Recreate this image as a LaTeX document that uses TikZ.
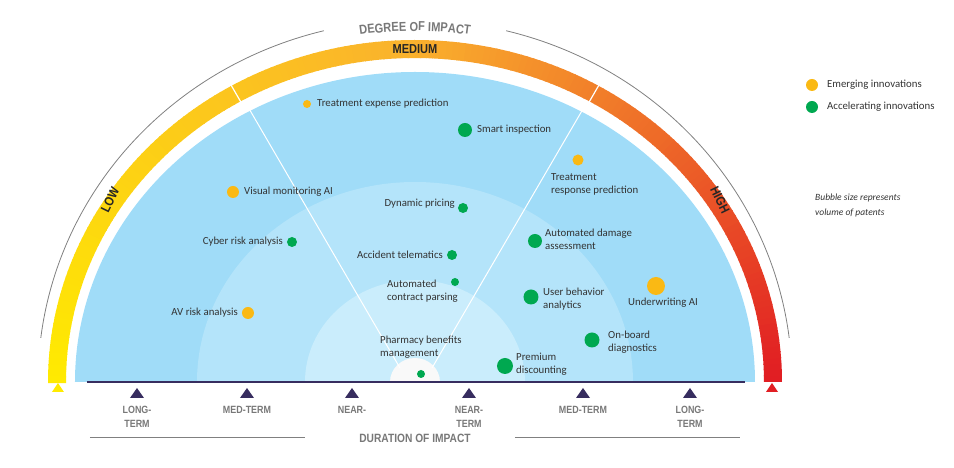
\documentclass[tikz,border=0pt]{standalone}
\usepackage{fontspec}
\setmainfont{Carlito}
\newfontfamily\hd[FakeStretch=0.85]{Liberation Sans}
\usetikzlibrary{decorations.text}
\definecolor{cY}{RGB}{255,235,0}
\definecolor{cO}{RGB}{250,178,45}
\definecolor{cR}{RGB}{225,30,35}
\definecolor{bA}{RGB}{160,220,248}
\definecolor{bB}{RGB}{180,228,250}
\definecolor{bC}{RGB}{202,237,252}
\definecolor{dotO}{RGB}{250,185,20}
\definecolor{dotG}{RGB}{0,168,80}
\definecolor{axis}{RGB}{55,45,95}
\definecolor{gt}{RGB}{120,120,120}
\begin{document}
\begin{tikzpicture}[x=1pt,y=1pt,
  lbl/.style={font=\fontsize{10.8}{13}\selectfont,text=black!80,inner sep=0pt,align=left},
  og/.style={fill=dotO},
  gr/.style={fill=dotG},
  tick/.style={fill=axis,draw=none},
  band/.style={font=\hd\bfseries\fontsize{13}{14}\selectfont,text=black!85,inner sep=0pt},
  tl/.style={font=\hd\bfseries\fontsize{10.5}{14}\selectfont,text=gt,align=center,inner sep=0pt}]
\useasboundingbox (-415,-86) rectangle (539,382);
% blue rings
\fill[bA] (-340,0) arc[start angle=180,end angle=0,x radius=340,y radius=310] -- cycle;
\fill[bB] (-218,0) arc[start angle=180,end angle=0,x radius=218,y radius=200] -- cycle;
\fill[bC] (-110,0) arc[start angle=180,end angle=0,x radius=110,y radius=102] -- cycle;
\fill[white!95!gray] (-25,0) arc[start angle=180,end angle=0,x radius=25,y radius=24] -- cycle;
\draw[white,line width=1pt] (-178,294) -- (-15,14);
\draw[white,line width=1pt] (182,297) -- (17,14);
% band
\foreach \a in {0,...,179}{
  \pgfmathtruncatemacro\p{\a>=90 ? (\a-90)/90*100 : \a/90*100}
  \ifnum\a<90 \colorlet{bc}{cO!\p!cR}\else\colorlet{bc}{cY!\p!cO}\fi
  \pgfmathsetmacro\b{\a+1.2}
  \fill[bc] (\a:349 and 324) arc[start angle=\a,end angle=\b,x radius=349,y radius=324]
    -- (\b:367 and 342) arc[start angle=\b,end angle=\a,x radius=367,y radius=342] -- cycle;
}
\draw[white,line width=1.2pt] (60:347 and 322) -- (60:369 and 344);
\draw[white,line width=1.2pt] (120:347 and 322) -- (120:369 and 344);
\node[band] (med) at (0,333) {MEDIUM};
\node[band,rotate=64] (low) at (-305,182) {LOW};
\node[band,rotate=-64] (high) at (305,182) {HIGH};
% gray arc
\draw[gray,line width=0.8pt] (7:377 and 362) arc[start angle=7,end angle=76,x radius=377,y radius=362];
\draw[gray,line width=0.8pt] (104:377 and 362) arc[start angle=104,end angle=173,x radius=377,y radius=362];
\path[decorate,decoration={text along path,text align=center,
  text={|\hd\bfseries\fontsize{13}{14}\selectfont\color{gt}|DEGREE OF IMPACT}}]
  (106:371 and 351) arc[start angle=106,end angle=74,x radius=371,y radius=351];
% base
\draw[axis,line width=2pt] (-328,0) -- (330,0);
\foreach \x/\n in {-278/t1,-168/t2,-63/t3,54/t4,168/t5,275/t6}
  \fill[tick] (\x-7,-16) -- (\x+7,-16) -- (\x,-6) -- cycle;
\fill[cY] (-363,-10) -- (-351,-10) -- (-357,-1) -- cycle;
\fill[cR] (351,-10) -- (363,-10) -- (357,-1) -- cycle;
\node[tl] (l1) at (-278,-35) {LONG-\\TERM};
\node[tl] (l2) at (-168,-28) {MED-TERM};
\node[tl] (l3) at (-63,-28) {NEAR-};
\node[tl] (l4) at (54,-35) {NEAR-\\TERM};
\node[tl] (l5) at (168,-28) {MED-TERM};
\node[tl] (l6) at (275,-35) {LONG-\\TERM};
\node[tl,font=\hd\bfseries\fontsize{12}{14}\selectfont] (dur) at (0,-56) {DURATION OF IMPACT};
\draw[gray,line width=1pt] (-325,-56) -- (-110,-56);
\draw[gray,line width=1pt] (100,-56) -- (325,-56);
% bubbles
\fill[og] (-108,278) circle (4);  \node[lbl,anchor=west] (a1) at (-98,278) {Treatment expense prediction};
\fill[gr] (50,252) circle (7);    \node[lbl,anchor=west] (a2) at (62,252) {Smart inspection};
\fill[og] (163,222) circle (5.5); \node[lbl,anchor=west] (a3) at (136,198) {Treatment\\response prediction};
\fill[og] (-182,190) circle (6);  \node[lbl,anchor=west] (a4) at (-171,190) {Visual monitoring AI};
\fill[gr] (48,174) circle (5);    \node[lbl,anchor=east] (a5) at (40,178) {Dynamic pricing};
\fill[gr] (-123,140) circle (5);  \node[lbl,anchor=east] (a6) at (-132,140) {Cyber risk analysis};
\fill[gr] (120,141) circle (7);   \node[lbl,anchor=west] (a7) at (130,143) {Automated damage\\assessment};
\fill[gr] (37,127) circle (5);    \node[lbl,anchor=east] (a8) at (28,127) {Accident telematics};
\fill[gr] (40,100) circle (4);    \node[lbl,anchor=west] (a9) at (-28,91) {Automated\\contract parsing};
\fill[og] (-167,69) circle (6);   \node[lbl,anchor=east] (a10) at (-177,69) {AV risk analysis};
\fill[gr] (116,85) circle (7.5);  \node[lbl,anchor=west] (a11) at (128,83) {User behavior\\analytics};
\fill[og] (241,96) circle (9);    \node[lbl,anchor=west] (a12) at (213,79) {Underwriting AI};
\fill[gr] (177,42) circle (7.5);  \node[lbl,anchor=west] (a13) at (193,40) {On-board\\diagnostics};
\fill[gr] (6,8) circle (4);       \node[lbl,anchor=west] (a14) at (-35,35) {Pharmacy benefits\\management};
\fill[gr] (90,16) circle (8);     \node[lbl,anchor=west] (a15) at (101,18) {Premium\\discounting};
% legend
\fill[og] (397,297) circle (6); \node[lbl,anchor=west] (g1) at (412,297) {Emerging innovations};
\fill[gr] (397,275) circle (6); \node[lbl,anchor=west] (g2) at (412,275) {Accelerating innovations};
\node[lbl,anchor=west,font=\itshape\fontsize{9.5}{15}\selectfont] (note) at (400,177) {Bubble size represents\\volume of patents};
\end{tikzpicture}
\end{document}
